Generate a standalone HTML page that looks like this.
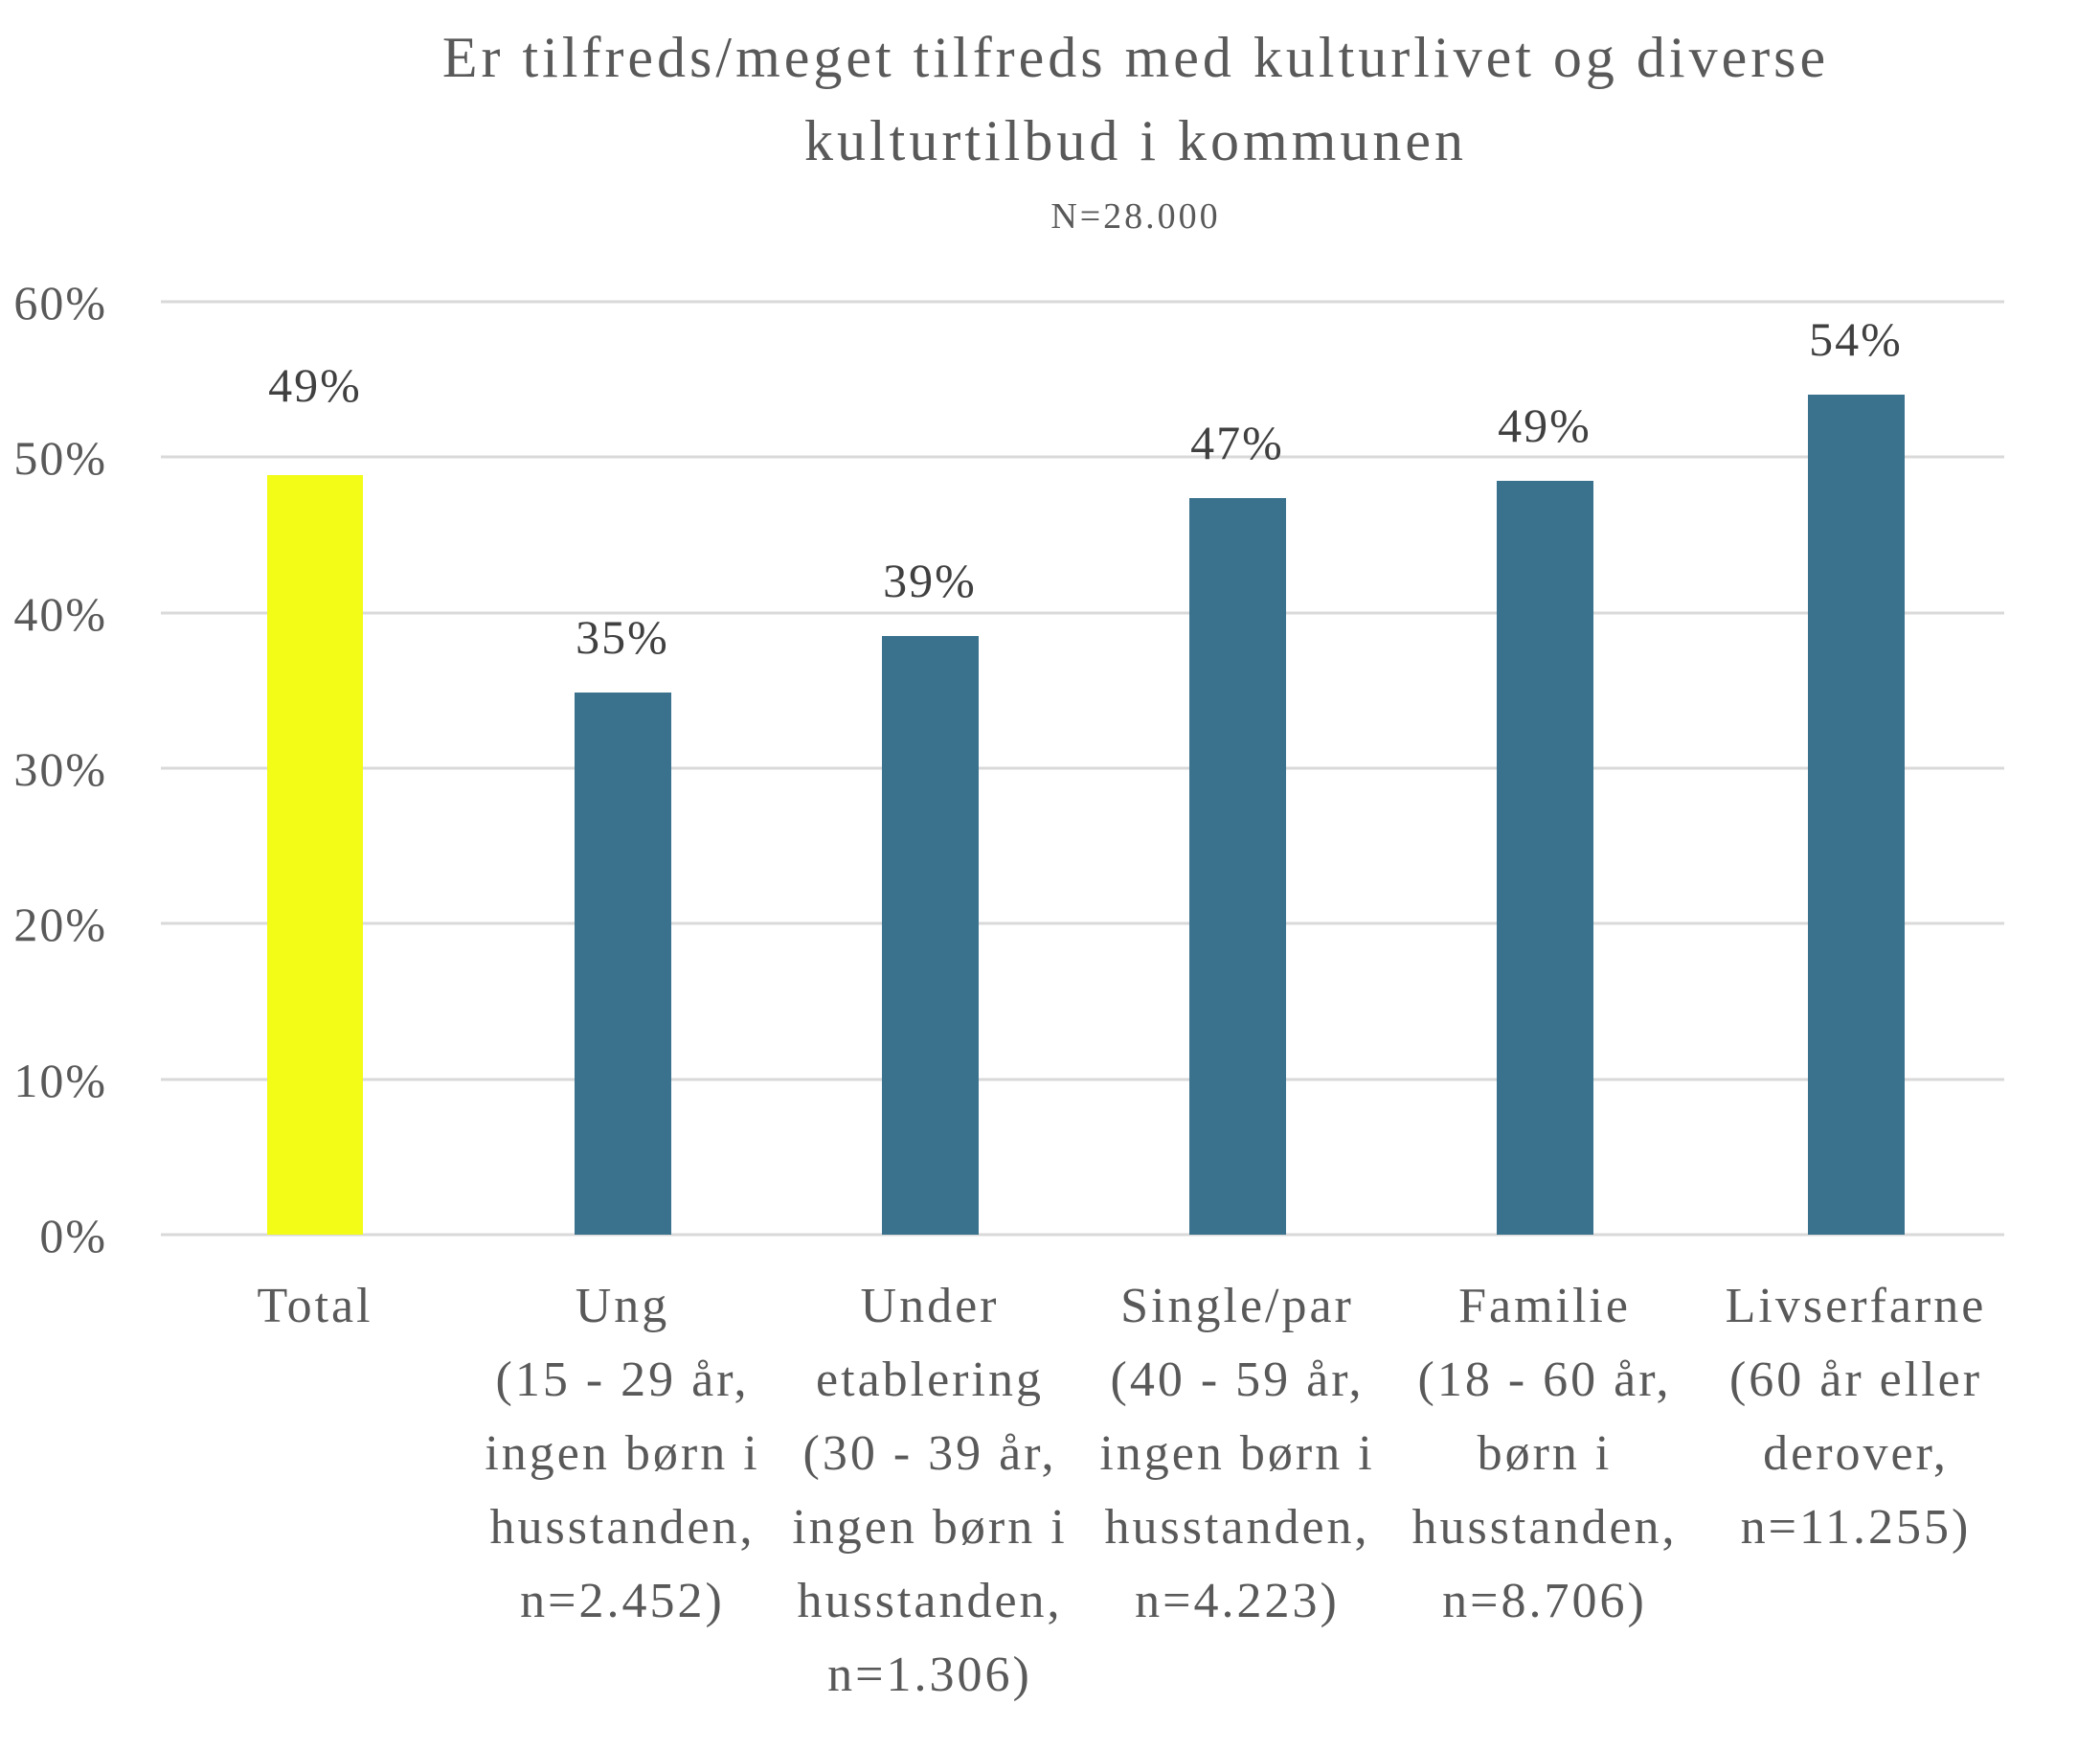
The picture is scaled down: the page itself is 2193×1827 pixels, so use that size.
<!DOCTYPE html>
<html><head><meta charset="utf-8"><style>html,body{margin:0;padding:0;background:#fff}svg{display:block}</style></head>
<body>
<svg width="2193" height="1827" viewBox="0 0 2193 1827" xmlns="http://www.w3.org/2000/svg" font-family="'Liberation Serif', serif">
<rect width="2193" height="1827" fill="#fff"/>
<g fill="#595959" text-anchor="middle">
<text x="1186" y="80" font-size="60" letter-spacing="4">Er tilfreds/meget tilfreds med kulturlivet og diverse</text>
<text x="1186" y="167" font-size="60" letter-spacing="4">kulturtilbud i kommunen</text>
<text x="1186" y="238" font-size="38" letter-spacing="3">N=28.000</text>
</g>
<g stroke="#d9d9d9" stroke-width="3">
<line x1="168" x2="2093" y1="315" y2="315"/>
<line x1="168" x2="2093" y1="477" y2="477"/>
<line x1="168" x2="2093" y1="640" y2="640"/>
<line x1="168" x2="2093" y1="802" y2="802"/>
<line x1="168" x2="2093" y1="964" y2="964"/>
<line x1="168" x2="2093" y1="1127" y2="1127"/>
<line x1="168" x2="2093" y1="1289" y2="1289"/>
</g>
<g fill="#595959" font-size="50" letter-spacing="2" text-anchor="end">
<text x="112" y="333">60%</text>
<text x="112" y="495">50%</text>
<text x="112" y="658">40%</text>
<text x="112" y="820">30%</text>
<text x="112" y="982">20%</text>
<text x="112" y="1145">10%</text>
<text x="112" y="1307">0%</text>
</g>
<rect x="279" y="496" width="100" height="793" fill="#f2fc17"/>
<g fill="#3a718d">
<rect x="600" y="723" width="101" height="566"/>
<rect x="921" y="664" width="101" height="625"/>
<rect x="1242" y="520" width="101" height="769"/>
<rect x="1563" y="502" width="101" height="787"/>
<rect x="1888" y="412" width="101" height="877"/>
</g>
<g fill="#404040" font-size="50" letter-spacing="2" text-anchor="middle">
<text x="329" y="419">49%</text>
<text x="650" y="682">35%</text>
<text x="971" y="623">39%</text>
<text x="1292" y="479">47%</text>
<text x="1613" y="461">49%</text>
<text x="1938" y="371">54%</text>
</g>
<g fill="#595959" font-size="52" letter-spacing="3" text-anchor="middle">
<text x="329" y="1380">Total</text>
<text x="650" y="1380">Ung</text>
<text x="650" y="1457">(15 - 29 år,</text>
<text x="650" y="1534">ingen børn i</text>
<text x="650" y="1611">husstanden,</text>
<text x="650" y="1688">n=2.452)</text>
<text x="971" y="1380">Under</text>
<text x="971" y="1457">etablering</text>
<text x="971" y="1534">(30 - 39 år,</text>
<text x="971" y="1611">ingen børn i</text>
<text x="971" y="1688">husstanden,</text>
<text x="971" y="1765">n=1.306)</text>
<text x="1292" y="1380">Single/par</text>
<text x="1292" y="1457">(40 - 59 år,</text>
<text x="1292" y="1534">ingen børn i</text>
<text x="1292" y="1611">husstanden,</text>
<text x="1292" y="1688">n=4.223)</text>
<text x="1613" y="1380">Familie</text>
<text x="1613" y="1457">(18 - 60 år,</text>
<text x="1613" y="1534">børn i</text>
<text x="1613" y="1611">husstanden,</text>
<text x="1613" y="1688">n=8.706)</text>
<text x="1938" y="1380">Livserfarne</text>
<text x="1938" y="1457">(60 år eller</text>
<text x="1938" y="1534">derover,</text>
<text x="1938" y="1611">n=11.255)</text>
</g>
</svg>
</body></html>
